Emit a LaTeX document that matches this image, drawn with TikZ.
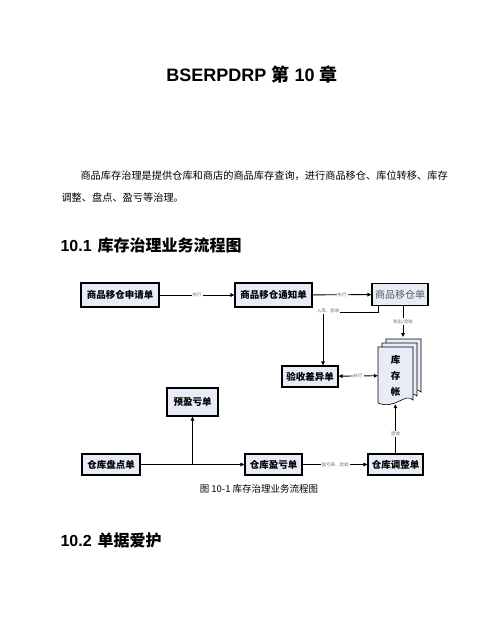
\documentclass[tikz,border=0pt]{standalone}
\usepackage{fontspec}
\setmainfont{Liberation Sans}
\newfontfamily\cjk{Noto Sans CJK SC}
\usetikzlibrary{positioning,arrows.meta}
\definecolor{boxfill}{RGB}{232,236,247}
\definecolor{lblgray}{RGB}{110,110,110}
\tikzset{
  card/.style={draw,line width=1.1pt,fill=boxfill,inner sep=0pt,minimum height=22pt,
    font=\cjk\bfseries\fontsize{9.5}{11}\selectfont},
  lbl/.style={fill=white,inner sep=1pt,text=lblgray,font=\cjk\fontsize{4.5}{5}\selectfont},
  flow/.style={line width=0.9pt,-{Triangle[length=4pt,width=3.5pt]}},
  flowboth/.style={line width=0.9pt,{Triangle[length=4pt,width=3.5pt]}-{Triangle[length=4pt,width=3.5pt]}},
  page/.style={draw,line width=0.6pt,fill=boxfill},
}
\begin{document}
\begin{tikzpicture}[x=1pt,y=-1pt]
\useasboundingbox[fill=white] (0,0) rectangle (503,635);
% page text
\node[font=\bfseries\fontsize{18}{20}\selectfont] (title) at (252,75) {BSERPDRP {\cjk 第} 10 {\cjk 章}};
\node[anchor=west,font=\cjk\fontsize{10.2}{12}\selectfont] (par1) at (77,176) {商品库存治理是提供仓库和商店的商品库存查询，进行商品移仓、库位转移、库存};
\node[anchor=west,font=\cjk\fontsize{10.2}{12}\selectfont] (par2) at (58,198) {调整、盘点、盈亏等治理。};
\node[anchor=west,font=\bfseries\fontsize{16}{18}\selectfont] (sec1) at (57,245) {10.1\hspace{6pt}{\cjk 库存治理业务流程图}};
\node[font=\cjk\fontsize{9.5}{11}\selectfont] (cap) at (259,489) {图 10-1 库存治理业务流程图};
\node[anchor=west,font=\bfseries\fontsize{16}{18}\selectfont] (sec2) at (57,540) {10.2\hspace{6pt}{\cjk 单据爱护}};

% boxes
\node[card,minimum width=78pt,minimum height=24pt] (apply) at (120,295) {商品移仓申请单};
\node[card,minimum width=77pt,minimum height=24pt] (notice) at (273.5,295) {商品移仓通知单};
\node[card,minimum width=56pt,font=\cjk\fontsize{10}{11}\selectfont,text=black!65] (move) at (400,294.5) {商品移仓单};
\node[card,minimum width=56pt,minimum height=21pt] (check) at (310,376.5) {验收差异单};
\node[card,minimum width=51pt,minimum height=28pt] (pre) at (192.5,402) {预盈亏单};
\node[card,minimum width=58pt,minimum height=21pt] (count) at (111,464.5) {仓库盘点单};
\node[card,minimum width=57pt,minimum height=21pt] (loss) at (273.5,464.5) {仓库盈亏单};
\node[card,minimum width=55pt,minimum height=21pt] (adjust) at (395.5,464.5) {仓库调整单};

% ledger pages
\foreach \d in {8,4,0} {
  \draw[page] (378+\d,347-\d) -- ++(35,0) -- ++(0,53)
    .. controls (405+\d,392-\d) and (396+\d,410-\d) .. (378+\d,403-\d) -- cycle;
}
\node[font=\cjk\bfseries\fontsize{9.5}{16}\selectfont,align=center,minimum width=35pt,minimum height=57pt,inner sep=0pt] (zhang) at (395.5,375.5) {库\\存\\帐};

% connectors
\coordinate (turn) at (323,312);
\coordinate (backtop) at (403,337);
\draw[flow] (apply) -- node[lbl]{执行} (notice);
\draw[flow] (notice) -- node[lbl]{执行} (move);
\draw[line width=0.9pt] ([xshift=-22pt]move.south) |- (turn);
\draw[flow] (turn) -- (turn |- check.north);
\node[lbl] (inlbl) at (328,311) {入库、验收};
\draw[flow] ([xshift=3pt]move.south) -- node[lbl]{发出/验收} (backtop);
\draw[flowboth] (check) -- node[lbl]{执行} (zhang);
\draw[flow] (adjust) -- node[lbl,pos=0.4]{验收} (zhang);
\draw[flow] (count) -- (loss);
\draw[flow] (count.east -| pre) -- (pre);
\draw[flow] (loss) -- node[lbl]{盈亏表、验收} (adjust);
\end{tikzpicture}
\end{document}
